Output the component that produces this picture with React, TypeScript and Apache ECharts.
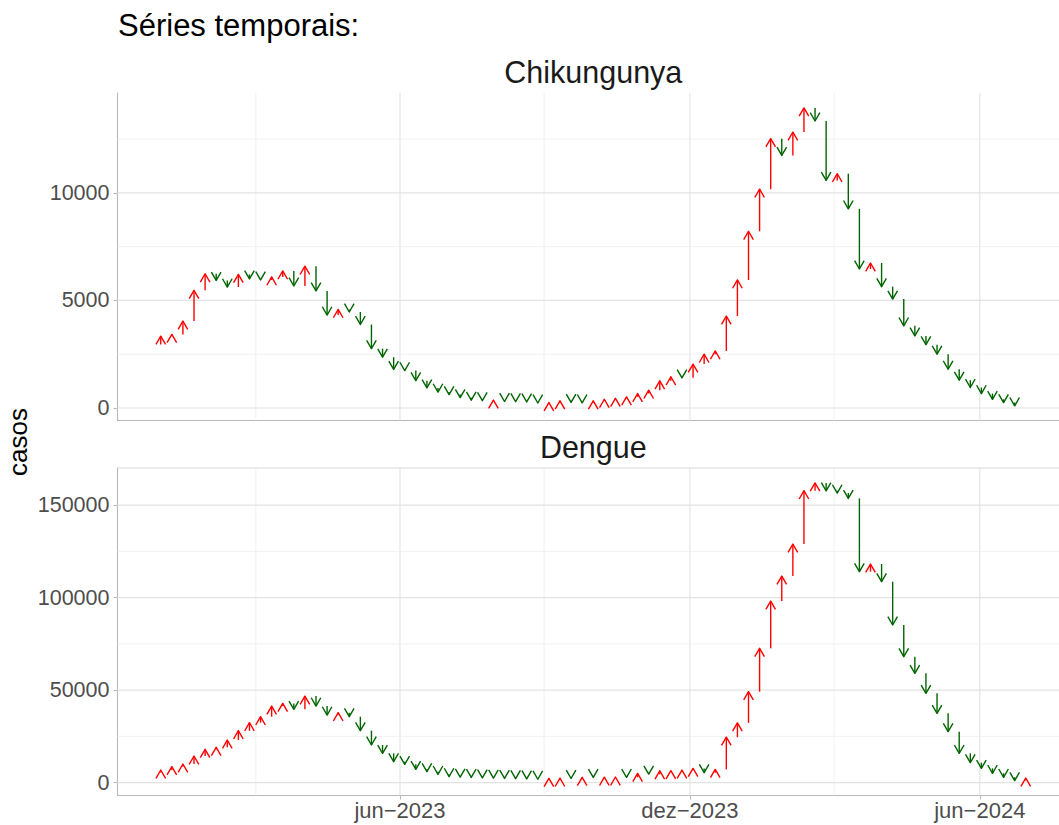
import React, { useEffect, useRef } from "react";
import * as echarts from "echarts";

// ---------- data ----------
// Weekly case counts; the first value (week of 2022-12-25) is only the tail of the first arrow.
const FIRST_WEEK = "2022-12-25";

const chikungunya = [
  2950,
  3340, 3420, 4040, 5470, 6240, 5930, 5620, 6210, 6000, 5950,
  6090, 6370, 5670, 6590, 5440, 4320, 4580, 4460, 3880, 2760,
  2360, 1790, 1740, 1270, 930, 740, 620, 480, 360, 340,
  365, 300, 290, 280, 230, 250, 330, 260, 240, 330,
  405, 450, 515, 670, 825, 1260, 1450, 1400, 2040, 2500,
  2650, 4270, 5950, 8215, 10170, 12520, 11740, 12830, 13950, 13340,
  10580, 10890, 9260, 6460, 6740, 5640, 5060, 3820, 3350, 2940,
  2500, 1800, 1290, 950, 670, 400, 250, 100,
];

const dengue = [
  5500,
  6840, 8640, 10080, 14400, 18000, 19080, 23040, 28080, 32400, 35640,
  41400, 42840, 39600, 46800, 41400, 36540, 37800, 35640, 28080, 20340,
  15840, 11340, 9900, 7200, 5940, 4500, 3300, 3000, 2800, 2600,
  2450, 2300, 2150, 2000, 1850, 2300, 2400, 2250, 2900, 2800,
  2950, 3050, 2900, 5000, 4600, 6440, 6500, 6800, 7700, 5400,
  7160, 24600, 32300, 49170, 72580, 98150, 111660, 128950, 157770, 162000,
  157700, 156500, 153600, 114000, 118150, 108600, 85190, 68080, 59070, 48270,
  37460, 27560, 15850, 10800, 7740, 5040, 2880, 1100, 2500,
];

const xTickDates = ["2023-06-01", "2023-12-01", "2024-06-01"];
const xTickLabels = ["jun\u22122023", "dez\u22122023", "jun\u22122024"];
const xMinorDates = ["2023-03-02", "2023-08-31", "2024-03-01"];

const chikTicks = [0, 5000, 10000];
const chikMinor = [2500, 7500, 12500];
const dengueTicks = [0, 50000, 100000, 150000];
const dengueMinor = [25000, 75000, 125000];

const panelTitles = ["Chikungunya", "Dengue"];
const plotTitle = "Séries temporais:";
const yTitle = "casos";

// ---------- helpers ----------
const DAY = 86400000;
const FONT = "'Liberation Sans', Arial, Helvetica, sans-serif";
const RED = "#FF0000";
const GREEN = "#006400";
const toTs = (s: string) => new Date(s + "T00:00:00Z").getTime();
const firstTs = toTs(FIRST_WEEK);
const weekTs = (k: number) => firstTs + k * 7 * DAY;

function arrowsOf(values: number[]) {
  const out: number[][] = [];
  for (let k = 1; k < values.length; k++) out.push([weekTs(k), values[k - 1], values[k]]);
  return out;
}

function expand(lo: number, hi: number) {
  const r = hi - lo;
  return [lo - 0.05 * r, hi + 0.05 * r];
}

const chikArrows = arrowsOf(chikungunya);
const dengueArrows = arrowsOf(dengue);

const allX = [...chikArrows, ...dengueArrows].map((d) => d[0]);
const [xMin, xMax] = expand(Math.min(...allX), Math.max(...allX));
const [chikMin, chikMax] = expand(Math.min(...chikungunya), Math.max(...chikungunya));
const [dengMin, dengMax] = expand(Math.min(...dengue), Math.max(...dengue));

const xTickTs = xTickDates.map(toTs);
const xMinorTs = xMinorDates.map(toTs);

const HL = 8.3; // arrow head vertical extent (px)
const HW = 4.8; // arrow head half width (px)

function arrowSeries(idx: number, data: number[][]) {
  return {
    type: "custom",
    xAxisIndex: idx,
    yAxisIndex: idx,
    z: 5,
    silent: true,
    clip: false,
    encode: { x: 0, y: [1, 2] },
    data,
    renderItem: (params: any, api: any) => {
      const x = api.value(0);
      const y0 = api.value(1);
      const y1 = api.value(2);
      const p0 = api.coord([x, y0]);
      const p1 = api.coord([x, y1]);
      const up = y1 > y0;
      const color = up ? RED : GREEN;
      const dir = up ? 1 : -1;
      return {
        type: "group",
        children: [
          {
            type: "line",
            shape: { x1: p0[0], y1: p0[1], x2: p1[0], y2: p1[1] },
            style: { stroke: color, lineWidth: 1.4 },
          },
          {
            type: "polyline",
            shape: {
              points: [
                [p1[0] - HW, p1[1] + dir * HL],
                [p1[0], p1[1]],
                [p1[0] + HW, p1[1] + dir * HL],
              ],
            },
            style: { stroke: color, fill: "none", lineWidth: 1.4, lineJoin: "round" },
          },
        ],
      };
    },
  };
}

function gridSeries(idx: number, yMin: number, hMajor: number[], hMinor: number[], extraTop: number[]) {
  const data: number[][] = [];
  xTickTs.forEach((t) => data.push([t, yMin, 1, 0]));
  xMinorTs.forEach((t) => data.push([t, yMin, 0, 0]));
  hMajor.forEach((v) => data.push([xMin, v, 1, 1]));
  hMinor.forEach((v) => data.push([xMin, v, 0, 1]));
  extraTop.forEach((v) => data.push([xMin, v, 2, 1]));
  return {
    type: "custom",
    xAxisIndex: idx,
    yAxisIndex: idx,
    z: 1,
    silent: true,
    clip: false,
    data,
    renderItem: (params: any, api: any) => {
      const cs = params.coordSys;
      const p = api.coord([api.value(0), api.value(1)]);
      const kind = api.value(2);
      const horiz = api.value(3) === 1;
      const shape = horiz
        ? { x1: cs.x, y1: p[1], x2: cs.x + cs.width, y2: p[1] }
        : { x1: p[0], y1: cs.y, x2: p[0], y2: cs.y + cs.height };
      const stroke = kind === 1 ? "#E3E3E3" : kind === 2 ? "#DADADA" : "#EDEDED";
      const lineWidth = kind === 0 ? 0.8 : 1.1;
      return { type: "line", shape, style: { stroke, lineWidth } };
    },
  };
}

const AXIS_COLOR = "#B8B8B8";
const LABEL_COLOR = "#4D4D4D";

function yAxisFor(idx: number, min: number, max: number, ticks: number[]) {
  return {
    type: "value",
    gridIndex: idx,
    min,
    max,
    axisLine: { show: true, onZero: false, lineStyle: { color: AXIS_COLOR, width: 1.1 } },
    axisTick: { show: true, length: 4, customValues: ticks, lineStyle: { color: AXIS_COLOR, width: 1.1 } },
    axisLabel: {
      show: true,
      customValues: ticks,
      margin: 8,
      color: LABEL_COLOR,
      fontSize: 21.5,
      fontFamily: FONT,
      formatter: (v: number) => (ticks.indexOf(v) >= 0 ? String(v) : ""),
    },
    splitLine: { show: false },
  };
}

const option: any = {
  animation: false,
  textStyle: { fontFamily: FONT },
  grid: [
    { left: 117.5, top: 93, width: 951.5, height: 327.7, containLabel: false, outerBoundsMode: "none" },
    { left: 117.5, top: 468, width: 951.5, height: 327.5, containLabel: false, outerBoundsMode: "none" },
  ],
  xAxis: [
    {
      type: "value",
      gridIndex: 0,
      min: xMin,
      max: xMax,
      axisLine: { show: true, onZero: false, lineStyle: { color: AXIS_COLOR, width: 1.1 } },
      axisTick: { show: false },
      axisLabel: { show: false },
      splitLine: { show: false },
    },
    {
      type: "value",
      gridIndex: 1,
      min: xMin,
      max: xMax,
      axisLine: { show: true, onZero: false, lineStyle: { color: AXIS_COLOR, width: 1.1 } },
      axisTick: { show: true, length: 4, customValues: xTickTs, lineStyle: { color: AXIS_COLOR, width: 1.1 } },
      axisLabel: {
        show: true,
        customValues: xTickTs,
        margin: 4,
        color: LABEL_COLOR,
        fontSize: 22,
        fontFamily: FONT,
        formatter: (v: number) => {
          const i = xTickTs.indexOf(v);
          return i >= 0 ? xTickLabels[i] : "";
        },
      },
      splitLine: { show: false },
    },
  ],
  yAxis: [yAxisFor(0, chikMin, chikMax, chikTicks), yAxisFor(1, dengMin, dengMax, dengueTicks)],
  series: [
    gridSeries(0, chikMin, chikTicks, chikMinor, []),
    gridSeries(1, dengMin, dengueTicks, dengueMinor, [dengMax]),
    arrowSeries(0, chikArrows),
    arrowSeries(1, dengueArrows),
  ],
  graphic: [
    {
      type: "text",
      x: 118,
      y: 25.3,
      style: { text: plotTitle, font: `31px ${FONT}`, fill: "#000", align: "left", verticalAlign: "middle" },
    },
    {
      type: "text",
      x: 593.3,
      y: 72.4,
      style: { text: panelTitles[0], font: `30.5px ${FONT}`, fill: "#1A1A1A", align: "center", verticalAlign: "middle" },
    },
    {
      type: "text",
      x: 593.3,
      y: 447.4,
      style: { text: panelTitles[1], font: `30.5px ${FONT}`, fill: "#1A1A1A", align: "center", verticalAlign: "middle" },
    },
    {
      type: "text",
      x: 17.7,
      y: 442,
      rotation: Math.PI / 2,
      style: { text: yTitle, font: `26px ${FONT}`, fill: "#000", align: "center", verticalAlign: "middle" },
    },
  ],
};

export default function App() {
  const ref = useRef<HTMLDivElement>(null);
  useEffect(() => {
    if (!ref.current) return;
    const chart = echarts.init(ref.current, undefined, { renderer: "svg" });
    chart.setOption(option);
    return () => chart.dispose();
  }, []);
  return (
    <div
      ref={ref}
      style={{ position: "absolute", left: 0, top: 0, width: 1059, height: 825, background: "#fff" }}
    />
  );
}
